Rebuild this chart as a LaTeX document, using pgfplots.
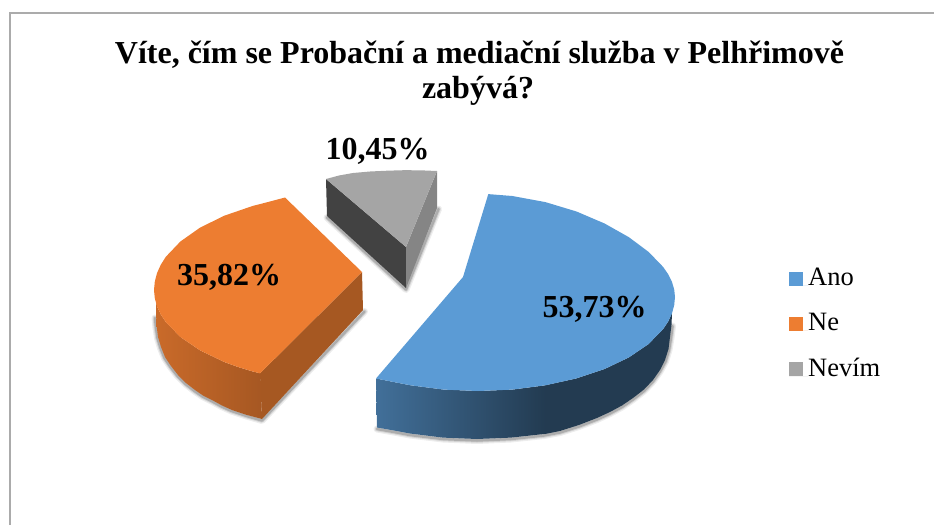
\documentclass[border=0pt]{standalone}
\usepackage{fontspec}
\setmainfont{Liberation Serif}
\usepackage{pgfplots}
\pgfplotsset{compat=1.18}
\definecolor{ano}{HTML}{5B9BD5}
\definecolor{ne}{HTML}{ED7D31}
\definecolor{nevim}{HTML}{A5A5A5}
\pgfplotsset{
  face/.style={draw=none, forget plot},
  soft/.style={draw=black, forget plot, line join=round, line cap=round, fill=none},
}
\newcommand{\shadowlines}[2]{%
  \addplot[soft, line width=#1, opacity=#2] coordinates {(155,318) (156,328) (157.5,338) (160.5,348) (164.5,358) (170.5,367) (177.5,376) (185.5,384) (194.5,391) (202.5,396.5) (211.5,401) (221.5,406.5) (231.5,411) (246.5,416) (262,420.5) (364.5,311.5)};
  \addplot[soft, line width=#1, opacity=#2] coordinates {(327,217.5) (406,289.5) (438.5,209)};
  \addplot[soft, line width=#1, opacity=#2] coordinates {(377,429) (394,432) (410,435) (443,439) (477,440.5) (511,439) (544,435.5) (560,432.5) (579,426.5) (597,419.5) (610,413.5) (622,407) (633,399.5) (644,391) (653,381.5) (660,371.5) (665.5,361.5) (669,350) (671,338) (672.5,326)};
}
\begin{document}
\begin{tikzpicture}
\useasboundingbox (0,0) rectangle (934pt,525pt);
\begin{axis}[
  at={(0,0)}, anchor=south west,
  width=934pt, height=525pt, scale only axis,
  xmin=0, xmax=934, ymin=0, ymax=525, y dir=reverse,
  hide axis, clip=false,
  legend style={at={(axis cs:789,268)}, anchor=north west, draw=none, fill=none,
    inner sep=0pt, row sep=26pt, font=\fontsize{26.5}{30}\selectfont,
    nodes={inner sep=0pt, anchor=base west}},
  legend cell align=left,
  legend image code/.code={\fill[#1, draw=none] (0pt,0pt) rectangle (14pt,14pt); \path[draw=none] (0pt,0pt) -- (19pt,0pt);},
]
% ramecek
\addplot[draw=black!33, line width=1.5pt, forget plot] coordinates {(10,525) (10,13) (934,13)};

% stiny
\shadowlines{7pt}{0.07}
\shadowlines{4.5pt}{0.11}
\shadowlines{2.5pt}{0.18}

% Nevim
\addplot[face, fill=black!74] coordinates {(326,179) (406,247) (406,288) (327,216) (326,179)};
\addplot[face, fill=black!48] coordinates {(437,171) (406,247) (406,288) (437,208) (437,171)};
\addplot[face, fill=nevim] coordinates {(326,179) (339,175.5) (353,173) (370,171.5) (387,170.7) (404,170.2) (420,170.3) (437,171) (406,247) (326,179)};

% Ne
\addplot[face, fill=ne!70!black] coordinates {(260,373.4) (362,272) (363,310) (262,419) (260,373.4)};
\addplot[face, left color=ne!85!black, right color=ne!70!black] coordinates {(156,300) (157,306.3) (160.7,314.3) (165.8,322.1) (180.4,337) (200.1,350.4) (224.3,362) (238,367) (252.5,371.4) (260.5,373.4) (262,419) (247,415) (232,410) (222,405.5) (212,400) (203,395.5) (195,390) (186,383) (178,375) (171,366) (165,357) (161,347) (158,337) (156.5,325) (156,312) (156,300)};
\addplot[face, fill=ne] coordinates {(285,197.5) (267.7,202.1) (252.5,206) (224.3,215.7) (200.1,227.6) (180.4,241.5) (165.8,256.8) (160.7,264.9) (157,273.1) (154.8,281.6) (154,290) (154.8,298.2) (157,306.3) (160.7,314.3) (165.8,322.1) (180.4,337) (200.1,350.4) (224.3,362) (238,367) (252.5,371.4) (260,373.4) (362,272) (285,197.5)};

% Ano
\addplot[face, left color=ano!72!black, right color=ano!38!black] coordinates {(376,378.5) (394.7,382.2) (410.6,385.3) (443.8,389.6) (478,391) (512.3,389.6) (545.4,385.3) (545.4,433.9) (544,434) (511,437.6) (477,439) (443,437.6) (410,433.5) (394,430.5) (377,427.5) (376,378.5)};
\addplot[face, fill=ano!38!black] coordinates {(545,385.3) (576.5,378.4) (604.6,369) (628.9,357.4) (648.6,344) (663.1,329.1) (668.3,321.3) (672,313) (671.5,325) (670,337) (668.5,349) (665,360) (660,370) (653,380) (644,389.5) (633,398) (622,405.5) (610,412) (597,418) (579,425) (560,431) (545,434) (545,385.3)};
\addplot[face, fill=ano] coordinates {(488.3,194.1) (512.3,196) (545.4,202.1) (576.5,211.5) (604.6,223.5) (628.9,237.2) (648.6,251.9) (663.1,266.9) (668.3,274.4) (672,282) (674.2,289.5) (675,297) (674.2,305.2) (672,313.3) (668.3,321.3) (663.1,329.1) (648.6,344) (628.9,357.4) (604.6,369) (576.5,378.4) (545.4,385.3) (512.3,389.6) (478,391) (443.8,389.6) (410.6,385.3) (394.7,382.2) (376,378.5) (463,277) (488.3,194.1)};

% legenda
\addlegendimage{fill=ano}
\addlegendentry{Ano}
\addlegendimage{fill=ne}
\addlegendentry{Ne}
\addlegendimage{fill=nevim}
\addlegendentry{Nevím}

% titulek a popisky
\node[anchor=base, font=\fontsize{32}{35}\selectfont\bfseries] at (axis cs:479.5,63) {Víte, čím se Probační a mediační služba v Pelhřimově};
\node[anchor=base, font=\fontsize{32}{35}\selectfont\bfseries] at (axis cs:478,98) {zabývá?};
\node[anchor=base, font=\fontsize{32}{36}\selectfont\bfseries] at (axis cs:377.5,159) {10,45\%};
\node[anchor=base, font=\fontsize{32}{36}\selectfont\bfseries] at (axis cs:229,285) {35,82\%};
\node[anchor=base, font=\fontsize{32}{36}\selectfont\bfseries] at (axis cs:594.5,317) {53,73\%};
\end{axis}
\end{tikzpicture}
\end{document}
